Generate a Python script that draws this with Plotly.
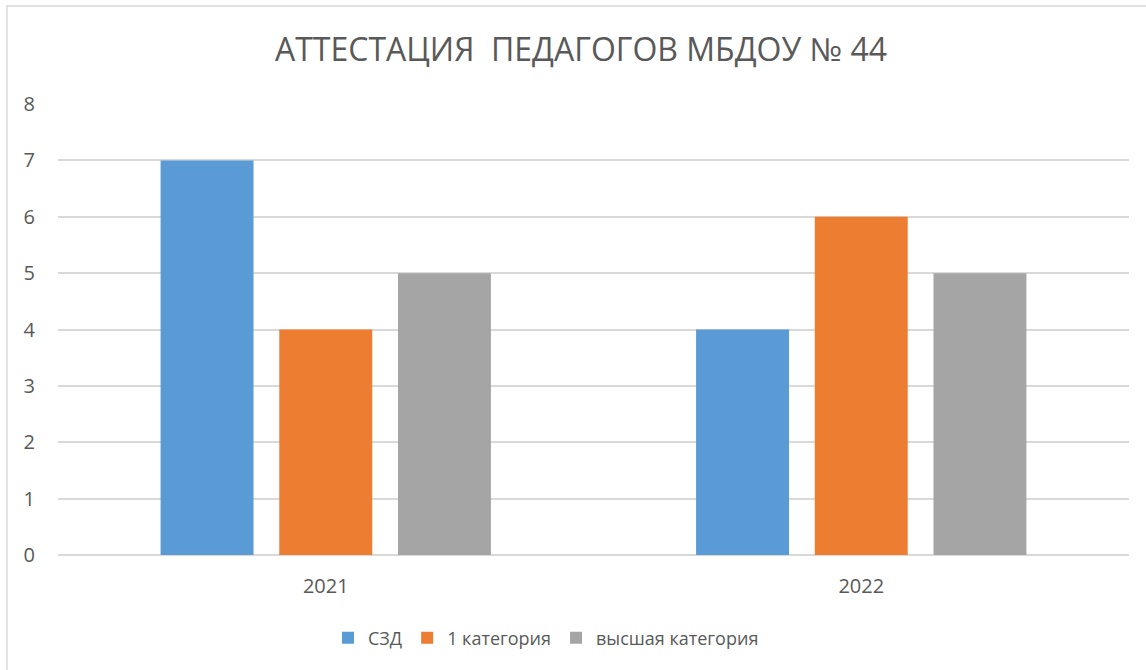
import plotly.graph_objects as go

categories = ["2021", "2022"]
szd = [7, 4]
cat1 = [4, 6]
high = [5, 5]
series_names = ["СЗД", "1 категория", "высшая категория"]
colors = ["#5b9bd5", "#ed7d31", "#a5a5a5"]

W, H = 1146, 670
L, R, T, B = 58, 17, 104, 115
pw, ph = W - L - R, H - T - B

fig = go.Figure()
for name, vals, c in zip(series_names, [szd, cat1, high], colors):
    fig.add_trace(go.Bar(x=categories, y=vals, name=name, marker=dict(color=c, line=dict(width=0))))

text_color = "#595959"
font = "Open Sans"

def px_to_paper_x(px):
    return (px - L) / pw

def px_to_paper_y(py):
    return 1 - (py - T) / ph

# chart border (top/left visible, right/bottom cut off)
fig.add_shape(type="rect", xref="paper", yref="paper",
              x0=px_to_paper_x(7), x1=px_to_paper_x(1160),
              y0=px_to_paper_y(690), y1=px_to_paper_y(6),
              line=dict(color="#d9d9d9", width=1.5), fillcolor="rgba(0,0,0,0)", layer="below")

fig.update_layout(
    width=W, height=H,
    margin=dict(l=L, r=R, t=T, b=B),
    paper_bgcolor="white", plot_bgcolor="white",
    font=dict(family=font, color=text_color, size=18),
    title=dict(text="АТТЕСТАЦИЯ  ПЕДАГОГОВ МБДОУ № 44", x=581 / W, xref="container", xanchor="center",
               y=1 - 50 / H, yref="container", yanchor="middle",
               font=dict(family=font, size=32, color=text_color)),
    barmode="group", bargap=0.335, bargroupgap=0.217,
    showlegend=True,
    legend=dict(orientation="h", xref="container", yref="container", x=546 / W, xanchor="center",
                y=1 - 638 / H, yanchor="middle", font=dict(size=18, color=text_color),
                traceorder="normal", itemwidth=30),
    xaxis=dict(showgrid=False, showline=False, ticks="", ticklabelstandoff=17,
               tickfont=dict(size=20, color=text_color)),
    yaxis=dict(range=[0, 8], dtick=1, showgrid=True, gridcolor="#d9d9d9", gridwidth=1.5,
               zeroline=True, zerolinecolor="#d9d9d9", zerolinewidth=1.5,
               showline=False, ticks="", ticklabelstandoff=22,
               tickfont=dict(size=20, color=text_color)),
)

fig.write_html("out.html", config={"displayModeBar": False},
               post_script="document.body.style.margin='0';document.body.style.overflow='hidden';")
